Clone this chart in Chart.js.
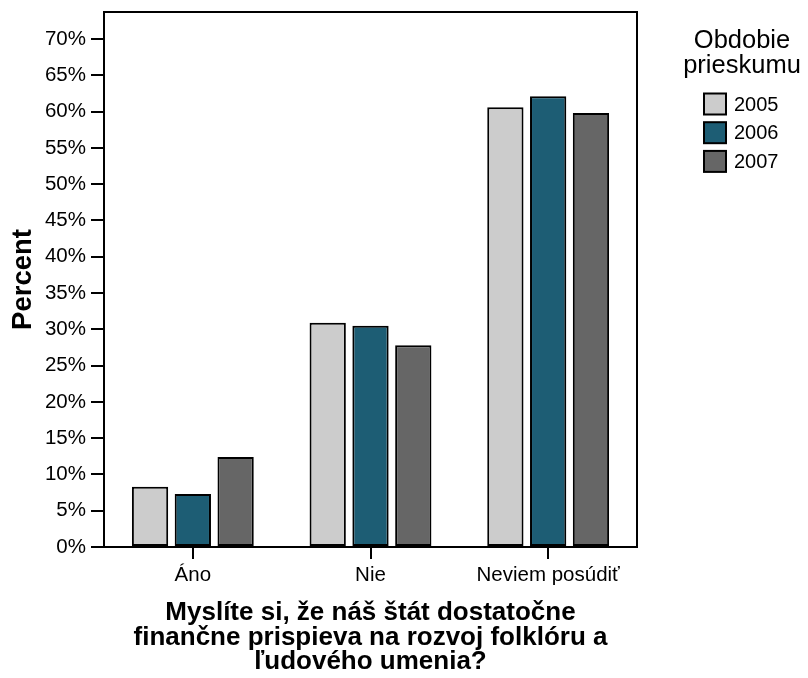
<!DOCTYPE html>
<html>
<head>
<meta charset="utf-8">
<script src="https://cdn.jsdelivr.net/npm/chart.js@4/dist/chart.umd.min.js"></script>
<style>
  html, body { margin: 0; padding: 0; background: #ffffff; }
  #wrap { width: 808px; height: 678px; position: relative; }
  canvas { display: block; }
</style>
</head>
<body>
<div id="wrap"><canvas id="c" width="808" height="678"></canvas></div>
<script>
// ---- data ----
const categories = ['Áno', 'Nie', 'Neviem posúdiť'];
const seriesLabels = ['2005', '2006', '2007'];
const values2005 = [8.3, 30.9, 60.6];
const values2006 = [7.3, 30.5, 62.1];
const values2007 = [12.4, 27.8, 59.8];
const yTickValues = [0, 5, 10, 15, 20, 25, 30, 35, 40, 45, 50, 55, 60, 65, 70];
const yTitle = 'Percent';
const xTitle = ['Myslíte si, že náš štát dostatočne', 'finančne prispieva na rozvoj folklóru a', 'ľudového umenia?'];
const legendTitle = ['Obdobie', 'prieskumu'];

// ---- styles ----
const seriesColors = ['#cccccc', '#1d5d74', '#666666'];
const FONT = '"Liberation Sans", Arial, sans-serif';

const frameAndLegend = {
  id: 'frameAndLegend',
  afterDatasetsDraw(chart) {
    const {ctx, chartArea: a} = chart;
    ctx.save();
    ctx.strokeStyle = '#000';
    ctx.lineWidth = 2;
    ctx.strokeRect(a.left, a.top, a.right - a.left, a.bottom - a.top);
    ctx.restore();
  },
  afterDraw(chart) {
    const ctx = chart.ctx;
    ctx.save();
    ctx.fillStyle = '#000';
    ctx.font = '25.5px ' + FONT;
    ctx.textAlign = 'center';
    ctx.textBaseline = 'alphabetic';
    ctx.fillText(legendTitle[0], 742, 48);
    ctx.fillText(legendTitle[1], 742, 73);
    chart.data.datasets.forEach((ds, i) => {
      const bx = 704, by = 93.5 + i * 28.7, bw = 22, bh = 21;
      ctx.fillStyle = ds.backgroundColor;
      ctx.fillRect(bx, by, bw, bh);
      ctx.strokeStyle = '#000';
      ctx.lineWidth = 2;
      ctx.strokeRect(bx, by, bw, bh);
      ctx.fillStyle = '#000';
      ctx.font = '20px ' + FONT;
      ctx.textAlign = 'left';
      ctx.textBaseline = 'middle';
      ctx.fillText(ds.label, 734, by + bh / 2 + 1);
    });
    ctx.restore();
  }
};

const datasetValues = [values2005, values2006, values2007];
new Chart(document.getElementById('c'), {
  type: 'bar',
  data: {
    labels: categories,
    datasets: seriesLabels.map((lab, i) => ({
      label: lab,
      data: datasetValues[i],
      backgroundColor: seriesColors[i],
      borderColor: '#000',
      borderWidth: 2,
      borderSkipped: false,
      categoryPercentage: 0.7225,
      barPercentage: 0.848
    }))
  },
  options: {
    responsive: false,
    animation: false,
    devicePixelRatio: 1,
    layout: { padding: { left: 0, right: 171, top: 12, bottom: 0 } },
    plugins: { legend: { display: false }, tooltip: { enabled: false } },
    scales: {
      x: {
        offset: true,
        grid: { display: true, offset: false, drawOnChartArea: false, drawTicks: true, tickLength: 12, color: '#000', lineWidth: 2 },
        border: { display: false },
        ticks: { color: '#000', font: { family: FONT, size: 20.5 }, padding: 4, maxRotation: 0 },
        title: { display: true, text: xTitle, color: '#000', font: { family: FONT, size: 26, weight: 'bold', lineHeight: 0.94 }, padding: { top: 0, bottom: 4 } },
        afterFit(scale) { scale.height = 131; scale.paddingLeft = 0; scale.paddingRight = 0; }
      },
      y: {
        min: 0,
        max: 73.72,
        bounds: 'data',
        grid: { display: true, drawOnChartArea: false, drawTicks: true, tickLength: 13, color: '#000', lineWidth: 2 },
        border: { display: false },
        afterBuildTicks(scale) { scale.ticks = yTickValues.map(v => ({ value: v })); },
        ticks: { color: '#000', font: { family: FONT, size: 20.5 }, padding: 5, callback: v => v + '%' },
        title: { display: true, text: yTitle, color: '#000', font: { family: FONT, size: 27.5, weight: 'bold', lineHeight: 1.2 }, padding: { top: 7, bottom: 0 } },
        afterFit(scale) { scale.width = 104; scale.paddingTop = 0; scale.paddingBottom = 0; }
      }
    }
  },
  plugins: [frameAndLegend]
});
</script>
</body>
</html>
